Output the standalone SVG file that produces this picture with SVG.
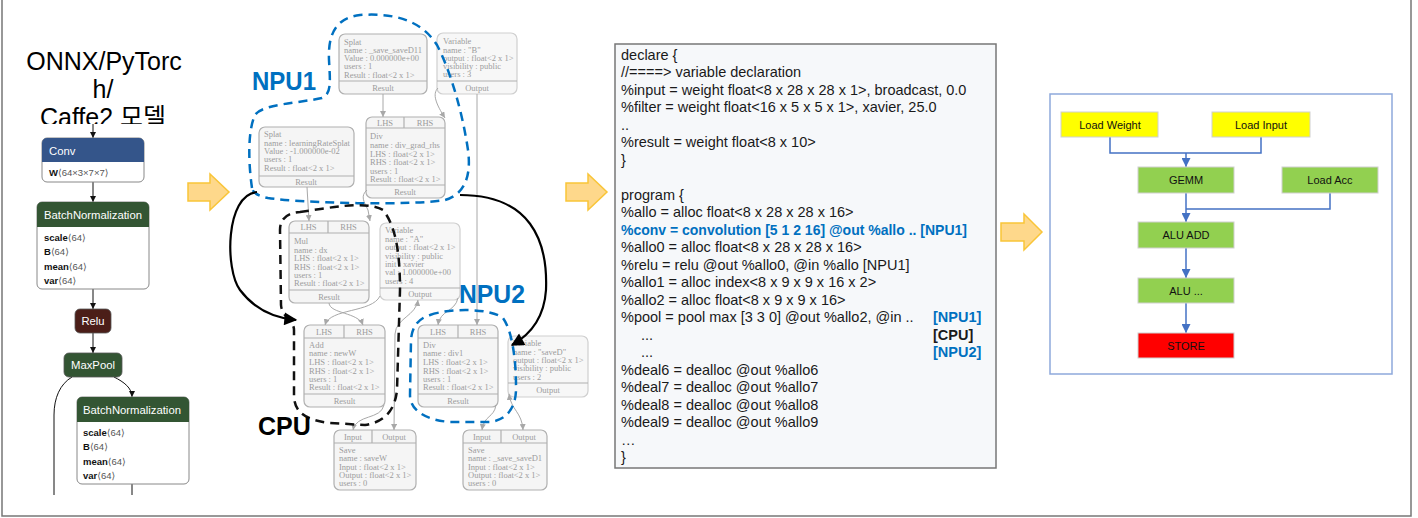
<svg xmlns="http://www.w3.org/2000/svg" width="1418" height="518" viewBox="0 0 1418 518">
<defs>
<style>
.frame{fill:none;stroke:#777;stroke-width:1.5}
.nt{font-family:"Liberation Sans",Arial,sans-serif}
.nhdr{font-family:"Liberation Sans",Arial,sans-serif;font-size:11.3px;fill:#fff}
.natt{font-family:"Liberation Sans","DejaVu Sans",sans-serif;font-size:9.5px;fill:#111}
.natt tspan.v{fill:#555;font-weight:normal}
.nbody{fill:#fff;stroke:#888;stroke-width:1}
.nedge{fill:none;stroke:#111;stroke-width:1}
.gn{fill:#f5f5f5;stroke:#b0b0b0;stroke-width:1.2}
.gv{fill:#f7f7f7;stroke:#cfcfcf;stroke-width:1.2}
.gl{stroke:#b0b0b0;stroke-width:1.2}
.gt{font-family:"Liberation Serif","Times New Roman",serif;font-size:8.5px;fill:#9c9c9c}
.gc{text-anchor:middle}
.ge{fill:none;stroke:#a8a8a8;stroke-width:1}
.npu{fill:none;stroke:#0070c0;stroke-width:2.5;stroke-dasharray:9,6}
.cpu{fill:none;stroke:#111;stroke-width:2.5;stroke-dasharray:9,6}
.blk{fill:none;stroke:#000;stroke-width:2.2}
.lab{font-family:"Liberation Sans",Arial,sans-serif;font-weight:bold;font-size:25px}
.oarr{fill:#fed88b;stroke:#f9c538;stroke-width:1.5}
.code{font-family:"Liberation Sans",Arial,sans-serif;font-size:14.5px;fill:#1a1a1a}
.blue{fill:#0070c0;font-weight:bold}
.bx{stroke:#d0d0d0;stroke-width:1}
.bt{font-family:"Liberation Sans",Arial,sans-serif;font-size:11px;fill:#111;text-anchor:middle}
.bl{fill:none;stroke:#4472c4;stroke-width:1.5}
</style>
<marker id="na" viewBox="0 0 10 10" refX="10" refY="5" markerWidth="6" markerHeight="6" orient="auto" markerUnits="userSpaceOnUse"><path d="M0,0 L10,5 L0,10 z" fill="#111"/></marker>
<marker id="ga" viewBox="0 0 10 10" refX="10" refY="5" markerWidth="6" markerHeight="6" orient="auto-start-reverse" markerUnits="userSpaceOnUse"><path d="M0,0 L10,5 L0,10 z" fill="#a8a8a8"/></marker>
<marker id="ba" viewBox="0 0 10 10" refX="9" refY="5" markerWidth="15" markerHeight="13" orient="auto" markerUnits="userSpaceOnUse"><path d="M0,0 L10,5 L0,10 z" fill="#000"/></marker>
<marker id="ua" viewBox="0 0 10 10" refX="10" refY="5" markerWidth="10" markerHeight="9" orient="auto" markerUnits="userSpaceOnUse"><path d="M0,0 L10,5 L0,10 z" fill="#4472c4"/></marker>
<clipPath id="titleclip"><rect x="0" y="0" width="200" height="124"/></clipPath>
</defs>

<rect x="0" y="0" width="1418" height="518" fill="#fff"/>
<path class="frame" d="M2,0 V516 H1411 V0"/>

<!-- Left: Netron model -->
<g id="title" clip-path="url(#titleclip)">
<text class="nt" font-size="25" text-anchor="middle" fill="#000"><tspan x="104" y="70">ONNX/PyTorc</tspan><tspan x="103" y="97.5">h/</tspan><tspan x="103" y="126" font-family="Liberation Sans,'Noto Sans CJK KR',sans-serif">Caffe2 모델</tspan></text>
</g>

<g id="netron-edges">
<path class="nedge" d="M93,124 V138" marker-end="url(#na)"/>
<path class="nedge" d="M93,182 V202" marker-end="url(#na)"/>
<path class="nedge" d="M93,289 V309" marker-end="url(#na)"/>
<path class="nedge" d="M93,333 V353" marker-end="url(#na)"/>
<path class="nedge" d="M72,377 C60,384 54,398 54,415 V495"/>
<path class="nedge" d="M114,377 C124,382 132,388 132,397" marker-end="url(#na)"/>
<path class="nedge" d="M132,484 V495"/>
</g>

<g id="conv">
<rect class="nbody" x="42" y="138" width="102" height="44" rx="5"/>
<path d="M47,138 H139 A5,5 0 0 1 144,143 V162 H42 V143 A5,5 0 0 1 47,138 Z" fill="#34558a"/>
<text class="nhdr" x="49" y="155">Conv</text>
<text class="natt" x="49" y="176"><tspan font-weight="bold">W</tspan><tspan class="v">⟨64×3×7×7⟩</tspan></text>
</g>

<g id="bn1">
<rect class="nbody" x="37" y="202" width="112" height="87" rx="5"/>
<path d="M42,202 H144 A5,5 0 0 1 149,207 V227 H37 V207 A5,5 0 0 1 42,202 Z" fill="#335533"/>
<text class="nhdr" x="44" y="219">BatchNormalization</text>
<text class="natt" x="44" y="241"><tspan font-weight="bold">scale</tspan><tspan class="v">⟨64⟩</tspan></text>
<text class="natt" x="44" y="255"><tspan font-weight="bold">B</tspan><tspan class="v">⟨64⟩</tspan></text>
<text class="natt" x="44" y="269.5"><tspan font-weight="bold">mean</tspan><tspan class="v">⟨64⟩</tspan></text>
<text class="natt" x="44" y="284"><tspan font-weight="bold">var</tspan><tspan class="v">⟨64⟩</tspan></text>
</g>

<g id="relu">
<rect x="75" y="309" width="36" height="24" rx="5" fill="#4b1e18" stroke="#555" stroke-width="0.8"/>
<text class="nhdr" x="93" y="325" text-anchor="middle">Relu</text>
</g>

<g id="maxpool">
<rect x="64" y="353" width="58" height="24" rx="5" fill="#335533" stroke="#555" stroke-width="0.8"/>
<text class="nhdr" x="93" y="369" text-anchor="middle">MaxPool</text>
</g>

<g id="bn2">
<rect class="nbody" x="77" y="397" width="112" height="87" rx="5"/>
<path d="M82,397 H184 A5,5 0 0 1 189,402 V422 H77 V402 A5,5 0 0 1 82,397 Z" fill="#335533"/>
<text class="nhdr" x="83" y="414">BatchNormalization</text>
<text class="natt" x="83" y="436"><tspan font-weight="bold">scale</tspan><tspan class="v">⟨64⟩</tspan></text>
<text class="natt" x="83" y="450"><tspan font-weight="bold">B</tspan><tspan class="v">⟨64⟩</tspan></text>
<text class="natt" x="83" y="464.5"><tspan font-weight="bold">mean</tspan><tspan class="v">⟨64⟩</tspan></text>
<text class="natt" x="83" y="478.5"><tspan font-weight="bold">var</tspan><tspan class="v">⟨64⟩</tspan></text>
</g>

<!-- Orange block arrows -->
<g id="arrows-orange">
<path class="oarr" d="M188,183 H210 V174 L229,192 L210,210 V201 H188 Z"/>
<path class="oarr" d="M566,183 H588 V174 L607,192 L588,210 V201 H566 Z"/>
<path class="oarr" d="M1001,223 H1024 V214 L1042,232 L1024,250 V241 H1001 Z"/>
</g>

<!-- Middle: Glow graph nodes -->
<g id="splat-saveD11">
<rect class="gn" x="339" y="34" width="88" height="60" rx="6"/>
<line class="gl" x1="339" y1="81" x2="427" y2="81"/>
<text class="gt" x="344"><tspan x="344" y="44.5">Splat</tspan><tspan x="344" y="53">name : _save_saveD11</tspan><tspan x="344" y="61">Value : 0.000000e+00</tspan><tspan x="344" y="69">users : 1</tspan><tspan x="344" y="77.5">Result : float&lt;2 x 1&gt;</tspan></text>
<text class="gt gc" x="383" y="90.5">Result</text>
</g>

<g id="var-B">
<rect class="gv" x="437" y="33" width="80" height="61" rx="6"/>
<line class="gl" x1="437" y1="81" x2="517" y2="81" stroke="#d4d4d4"/>
<text class="gt"><tspan x="443" y="44">Variable</tspan><tspan x="443" y="52.5">name : "B"</tspan><tspan x="443" y="60.5">output : float&lt;2 x 1&gt;</tspan><tspan x="443" y="69">visibility : public</tspan><tspan x="443" y="77">users : 3</tspan></text>
<text class="gt gc" x="477" y="90.5">Output</text>
</g>

<g id="splat-lr">
<rect class="gn" x="259" y="127" width="95" height="60" rx="6"/>
<line class="gl" x1="259" y1="176" x2="354" y2="176"/>
<text class="gt"><tspan x="264" y="137">Splat</tspan><tspan x="264" y="146">name : learningRateSplat</tspan><tspan x="264" y="154">Value : -1.000000e-02</tspan><tspan x="264" y="162">users : 1</tspan><tspan x="264" y="171">Result : float&lt;2 x 1&gt;</tspan></text>
<text class="gt gc" x="306" y="184.5">Result</text>
</g>

<g id="div-grad">
<rect class="gn" x="366" y="117" width="79" height="81" rx="6"/>
<line class="gl" x1="366" y1="128" x2="445" y2="128"/>
<line class="gl" x1="404" y1="117" x2="404" y2="128"/>
<line class="gl" x1="366" y1="185" x2="445" y2="185"/>
<text class="gt gc" x="385" y="125.5">LHS</text><text class="gt gc" x="425" y="125.5">RHS</text>
<text class="gt"><tspan x="370" y="139">Div</tspan><tspan x="370" y="148">name : div_grad_rhs</tspan><tspan x="370" y="157">LHS : float&lt;2 x 1&gt;</tspan><tspan x="370" y="165">RHS : float&lt;2 x 1&gt;</tspan><tspan x="370" y="174">users : 1</tspan><tspan x="370" y="182">Result : float&lt;2 x 1&gt;</tspan></text>
<text class="gt gc" x="405" y="194.5">Result</text>
</g>

<g id="mul-dx">
<rect class="gn" x="289" y="221" width="80" height="82" rx="6"/>
<line class="gl" x1="289" y1="233" x2="369" y2="233"/>
<line class="gl" x1="328" y1="221" x2="328" y2="233"/>
<line class="gl" x1="289" y1="290" x2="369" y2="290"/>
<text class="gt gc" x="308.5" y="230">LHS</text><text class="gt gc" x="348.5" y="230">RHS</text>
<text class="gt"><tspan x="294" y="244">Mul</tspan><tspan x="294" y="253">name : dx</tspan><tspan x="294" y="261">LHS : float&lt;2 x 1&gt;</tspan><tspan x="294" y="270">RHS : float&lt;2 x 1&gt;</tspan><tspan x="294" y="278">users : 1</tspan><tspan x="294" y="286">Result : float&lt;2 x 1&gt;</tspan></text>
<text class="gt gc" x="329" y="300">Result</text>
</g>

<g id="var-A">
<rect class="gv" x="380" y="223" width="80" height="77" rx="6"/>
<line class="gl" x1="380" y1="288" x2="460" y2="288" stroke="#d4d4d4"/>
<text class="gt"><tspan x="385" y="233">Variable</tspan><tspan x="385" y="242">name : "A"</tspan><tspan x="385" y="250">output : float&lt;2 x 1&gt;</tspan><tspan x="385" y="259">visibility : public</tspan><tspan x="385" y="267">init : xavier</tspan><tspan x="385" y="275">val : 1.000000e+00</tspan><tspan x="385" y="284">users : 4</tspan></text>
<text class="gt gc" x="420" y="297">Output</text>
</g>

<g id="add-newW">
<rect class="gn" x="304" y="325" width="81" height="82" rx="6"/>
<line class="gl" x1="304" y1="338" x2="385" y2="338"/>
<line class="gl" x1="344" y1="325" x2="344" y2="338"/>
<line class="gl" x1="304" y1="394" x2="385" y2="394"/>
<text class="gt gc" x="324" y="334.5">LHS</text><text class="gt gc" x="364.5" y="334.5">RHS</text>
<text class="gt"><tspan x="309" y="348">Add</tspan><tspan x="309" y="356">name : newW</tspan><tspan x="309" y="365">LHS : float&lt;2 x 1&gt;</tspan><tspan x="309" y="374">RHS : float&lt;2 x 1&gt;</tspan><tspan x="309" y="382">users : 1</tspan><tspan x="309" y="390">Result : float&lt;2 x 1&gt;</tspan></text>
<text class="gt gc" x="344.5" y="404">Result</text>
</g>

<g id="div-div1">
<rect class="gn" x="418" y="325" width="80" height="82" rx="6"/>
<line class="gl" x1="418" y1="338" x2="498" y2="338"/>
<line class="gl" x1="458" y1="325" x2="458" y2="338"/>
<line class="gl" x1="418" y1="394" x2="498" y2="394"/>
<text class="gt gc" x="438" y="334.5">LHS</text><text class="gt gc" x="478" y="334.5">RHS</text>
<text class="gt"><tspan x="423" y="348">Div</tspan><tspan x="423" y="356">name : div1</tspan><tspan x="423" y="365">LHS : float&lt;2 x 1&gt;</tspan><tspan x="423" y="374">RHS : float&lt;2 x 1&gt;</tspan><tspan x="423" y="382">users : 1</tspan><tspan x="423" y="390">Result : float&lt;2 x 1&gt;</tspan></text>
<text class="gt gc" x="458" y="404">Result</text>
</g>

<g id="var-saveD">
<rect class="gv" x="508" y="336" width="80" height="61" rx="6"/>
<line class="gl" x1="508" y1="383" x2="588" y2="383" stroke="#d4d4d4"/>
<text class="gt"><tspan x="513" y="346">Variable</tspan><tspan x="513" y="355">name : "saveD"</tspan><tspan x="513" y="363">output : float&lt;2 x 1&gt;</tspan><tspan x="513" y="371">visibility : public</tspan><tspan x="513" y="380">users : 2</tspan></text>
<text class="gt gc" x="548" y="393">Output</text>
</g>

<g id="save-saveW">
<rect class="gn" x="334" y="430" width="82" height="60" rx="6"/>
<line class="gl" x1="334" y1="443" x2="416" y2="443"/>
<line class="gl" x1="372" y1="430" x2="372" y2="443"/>
<text class="gt gc" x="353" y="439.5">Input</text><text class="gt gc" x="394" y="439.5">Output</text>
<text class="gt"><tspan x="339" y="453">Save</tspan><tspan x="339" y="461">name : saveW</tspan><tspan x="339" y="470">Input : float&lt;2 x 1&gt;</tspan><tspan x="339" y="478">Output : float&lt;2 x 1&gt;</tspan><tspan x="339" y="486">users : 0</tspan></text>
</g>

<g id="save-saveD1">
<rect class="gn" x="463" y="430" width="84" height="60" rx="6"/>
<line class="gl" x1="463" y1="443" x2="547" y2="443"/>
<line class="gl" x1="501" y1="430" x2="501" y2="443"/>
<text class="gt gc" x="482" y="439.5">Input</text><text class="gt gc" x="524" y="439.5">Output</text>
<text class="gt"><tspan x="468" y="453">Save</tspan><tspan x="468" y="461">name : _save_saveD1</tspan><tspan x="468" y="470">Input : float&lt;2 x 1&gt;</tspan><tspan x="468" y="478">Output : float&lt;2 x 1&gt;</tspan><tspan x="468" y="486">users : 0</tspan></text>
</g>

<!-- Glow graph edges -->
<g id="glow-edges">
<path class="ge" d="M383,94 V117" marker-end="url(#ga)"/>
<path class="ge" d="M438,88 C432,94 436,104 445,118" marker-end="url(#ga)"/>
<path class="ge" d="M477,94 V325" marker-end="url(#ga)"/>
<path class="ge" d="M307,187 L309,221" marker-end="url(#ga)"/>
<path class="ge" d="M367,190 C360,196 364,202 368,210 L370,221" marker-end="url(#ga)"/>
<path class="ge" d="M329,303 C330,314 358,312 363,325" marker-end="url(#ga)"/>
<path class="ge" d="M380,296 C372,313 330,308 325,325" marker-end="url(#ga)"/>
<path class="ge" d="M458,298 C455,312 440,310 438,325" marker-end="url(#ga)"/>
<path class="ge" d="M418,300 C416,316 396,318 395,334 L394,430" marker-start="url(#ga)" marker-end="url(#ga)"/>
<path class="ge" d="M384,405 C381,420 356,414 353,430" marker-end="url(#ga)"/>
<path class="ge" d="M496,405 C494,418 484,415 482,430" marker-end="url(#ga)"/>
<path class="ge" d="M509,394 C511,410 522,412 523,430" marker-start="url(#ga)" marker-end="url(#ga)"/>
</g>

<!-- Partition regions -->
<g id="npu1">
<path class="npu" d="M252,188 C248,160 248,130 255,115 C262,104 300,103 322,98 C332,94 330,80 329,60 C328,35 335,18 360,15 C390,13 420,18 437,45 C450,70 462,110 468,150 C472,180 462,195 445,200 C410,206 300,203 268,198 C258,196 253,193 252,188 Z"/>
<text class="lab" x="252" y="90" fill="#0070c0" textLength="64" lengthAdjust="spacingAndGlyphs">NPU1</text>
</g>
<g id="cpu">
<path class="cpu" d="M300,212 C330,208 365,200 383,210 C395,225 400,250 400,290 L397,390 C395,410 385,422 365,425 L330,423 C305,420 294,412 294,395 L294,330 C294,320 282,318 281,305 L280,230 C280,218 288,213 300,212 Z"/>
<text class="lab" x="258" y="435" fill="#000">CPU</text>
</g>
<g id="npu2">
<path class="npu" d="M430,315 C450,308 490,308 503,318 C512,330 516,360 516,385 C517,410 505,420 490,422 L450,422 C425,420 410,410 410,395 L411,340 C412,325 420,318 430,315 Z"/>
<text class="lab" x="459" y="303" fill="#0070c0" textLength="66" lengthAdjust="spacingAndGlyphs">NPU2</text>
</g>

<g id="partition-edges">
<path class="blk" d="M257,192 C225,195 225,270 240,290 C255,310 275,318 296,320" marker-end="url(#ba)"/>
<path class="blk" d="M460,195 C530,195 548,240 546,290 C544,320 528,336 512,345" marker-end="url(#ba)"/>
</g>

<!-- Code panel -->
<g id="code">
<rect x="615" y="44" width="381" height="424" fill="#f6f8fa" stroke="#777" stroke-width="1.5"/>
<text class="code">
<tspan x="621" y="59.5">declare {</tspan>
<tspan x="621" y="77">//====&gt; variable declaration</tspan>
<tspan x="621" y="94.5">%input = weight float&lt;8 x 28 x 28 x 1&gt;, broadcast, 0.0</tspan>
<tspan x="621" y="112">%filter = weight float&lt;16 x 5 x 5 x 1&gt;, xavier, 25.0</tspan>
<tspan x="621" y="129.5">..</tspan>
<tspan x="621" y="147">%result = weight float&lt;8 x 10&gt;</tspan>
<tspan x="621" y="164.5">}</tspan>
<tspan x="621" y="199.5">program {</tspan>
<tspan x="621" y="217">%allo = alloc float&lt;8 x 28 x 28 x 16&gt;</tspan>
<tspan x="621" y="252">%allo0 = alloc float&lt;8 x 28 x 28 x 16&gt;</tspan>
<tspan x="621" y="269.5">%relu = relu @out %allo0, @in %allo [NPU1]</tspan>
<tspan x="621" y="287">%allo1 = alloc index&lt;8 x 9 x 9 x 16 x 2&gt;</tspan>
<tspan x="621" y="304.5">%allo2 = alloc float&lt;8 x 9 x 9 x 16&gt;</tspan>
<tspan x="621" y="322">%pool = pool max [3 3 0] @out %allo2, @in ..</tspan>
<tspan x="641" y="339.5">...</tspan>
<tspan x="641" y="357">...</tspan>
<tspan x="621" y="374.5">%deal6 = dealloc @out %allo6</tspan>
<tspan x="621" y="392">%deal7 = dealloc @out %allo7</tspan>
<tspan x="621" y="409.5">%deal8 = dealloc @out %allo8</tspan>
<tspan x="621" y="427">%deal9 = dealloc @out %allo9</tspan>
<tspan x="621" y="444.5">…</tspan>
<tspan x="621" y="462">}</tspan>
</text>
<text class="code blue" x="621" y="234.5" textLength="346" lengthAdjust="spacingAndGlyphs">%conv = convolution [5 1 2 16] @out %allo ..  [NPU1]</text>
<text class="code blue" x="933" y="322">[NPU1]</text>
<text class="code" x="933" y="339.5" font-weight="bold">[CPU]</text>
<text class="code blue" x="933" y="357">[NPU2]</text>
</g>

<!-- Right panel: NPU pipeline -->
<rect x="1050" y="94" width="342" height="280" fill="#fff" stroke="#8ea9db" stroke-width="1.5"/>
<g id="pipe-edges">
<path class="bl" d="M1110,137 V153 H1261 V137"/>
<path class="bl" d="M1186,153 V167" marker-end="url(#ua)"/>
<path class="bl" d="M1330,193 V209 H1186"/>
<path class="bl" d="M1186,193 V222" marker-end="url(#ua)"/>
<path class="bl" d="M1186,248 V278" marker-end="url(#ua)"/>
<path class="bl" d="M1186,303 V333" marker-end="url(#ua)"/>
</g>
<g id="load-weight"><rect class="bx" x="1061" y="112" width="97" height="25" fill="#ffff00"/><text class="bt" x="1110" y="128.5">Load Weight</text></g>
<g id="load-input"><rect class="bx" x="1212" y="112" width="98" height="25" fill="#ffff00"/><text class="bt" x="1261" y="128.5">Load Input</text></g>
<g id="gemm"><rect class="bx" x="1138" y="167" width="96" height="26" fill="#92d050"/><text class="bt" x="1186" y="184">GEMM</text></g>
<g id="load-acc"><rect class="bx" x="1282" y="167" width="96" height="26" fill="#92d050"/><text class="bt" x="1330" y="184">Load Acc</text></g>
<g id="alu-add"><rect class="bx" x="1138" y="222" width="96" height="26" fill="#92d050"/><text class="bt" x="1186" y="239">ALU ADD</text></g>
<g id="alu-etc"><rect class="bx" x="1138" y="278" width="96" height="25" fill="#92d050"/><text class="bt" x="1186" y="294.5">ALU ...</text></g>
<g id="store"><rect class="bx" x="1138" y="333" width="96" height="25" fill="#ff0000"/><text class="bt" x="1186" y="349.5">STORE</text></g>
</svg>
